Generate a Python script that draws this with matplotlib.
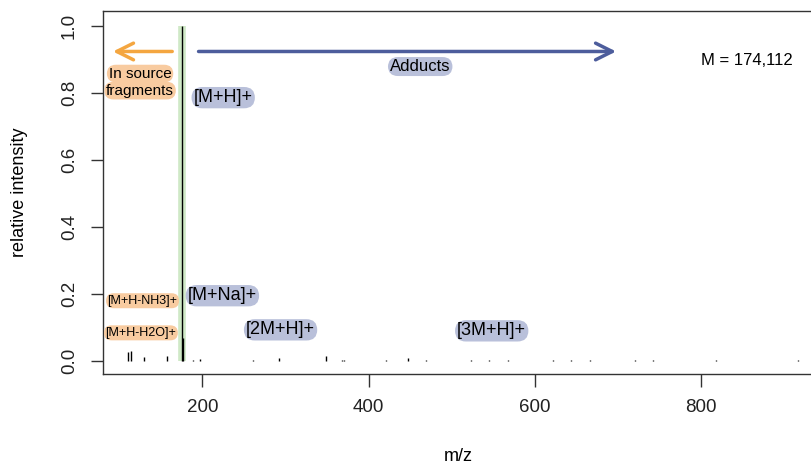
import matplotlib.pyplot as plt
import numpy as np

plt.rcParams['font.family'] = ['Liberation Sans', 'DejaVu Sans']

# spectrum sticks (m/z, relative intensity)
mz = [110.9, 113.5, 130.1, 157.1, 175.12, 176.12, 189.2, 197.1, 261.4, 292.7,
      349.2, 367.9, 370.7, 420.6, 447.7, 468.8, 523.3, 545.3, 567.8, 621.8,
      643.7, 665.7, 719.9, 742.0, 818.1, 915.9]
inten = [0.027, 0.029, 0.012, 0.016, 1.0, 0.07, 0.004, 0.005, 0.004, 0.008,
         0.014, 0.003, 0.003, 0.004, 0.01, 0.004, 0.004, 0.004, 0.004, 0.004,
         0.004, 0.004, 0.004, 0.004, 0.004, 0.004]

mass_label = 'M = 174,112'
base_mz = 175.12

# labels: text, x, y, fontsize
frag_labels = [('In source', 125, 0.859, 11), ('fragments', 125, 0.808, 11),
               ('[M+H-NH3]+', 128, 0.180, 9), ('[M+H-H2O]+', 126, 0.084, 9)]
adduct_labels = [('[M+H]+', 225, 0.787, 13), ('Adducts', 462, 0.880, 12),
                 ('[M+Na]+', 224, 0.195, 13), ('[2M+H]+', 294, 0.093, 13),
                 ('[3M+H]+', 548, 0.090, 13)]

orange_fill = '#f8cba0'
blue_fill = '#b9c0da'

fig = plt.figure(figsize=(8.11, 4.70), dpi=100)
ax = fig.add_axes([103/811, 96/470, 1.003 - 103/811, (374-11)/470])

ax.vlines(base_mz, 0, 1.0, color='#cfe9c6', lw=5.5, zorder=1)
ax.vlines(mz, 0, inten, color='black', lw=1.0, zorder=2)

ax.set_xlim(80.4, 935)
ax.set_ylim(-0.039, 1.046)
ax.set_xticks([200, 400, 600, 800])
ax.set_yticks([0.0, 0.2, 0.4, 0.6, 0.8, 1.0])
ax.set_yticklabels(['0.0', '0.2', '0.4', '0.6', '0.8', '1.0'], rotation=90, va='center')
ax.tick_params(length=9, width=1, labelsize=13.5, pad=9, colors='#333333', labelcolor='#222222')
for s in ax.spines.values():
    s.set_color('#333333')
    s.set_linewidth(1)

ax.set_xlabel('m/z', fontsize=13, labelpad=23)
ax.set_ylabel('relative intensity', fontsize=13, labelpad=24)

# arrows
ax.annotate('', xy=(89, 0.925), xytext=(167, 0.925),
            arrowprops=dict(arrowstyle='->', color='#f4a640', lw=2.5, mutation_scale=30))
ax.annotate('', xy=(701, 0.925), xytext=(192, 0.925),
            arrowprops=dict(arrowstyle='->', color='#4d5d9c', lw=2.5, mutation_scale=30))

for txt, x, y, fs in frag_labels:
    ax.text(x, y, txt, ha='center', va='center', fontsize=fs, zorder=3,
            bbox=dict(boxstyle='round,pad=0.12,rounding_size=0.6', fc=orange_fill, ec='none'))
for txt, x, y, fs in adduct_labels:
    ax.text(x, y, txt, ha='center', va='center', fontsize=fs, zorder=3,
            bbox=dict(boxstyle='round,pad=0.12,rounding_size=0.6', fc=blue_fill, ec='none'))

ax.text(855, 0.898, mass_label, ha='center', va='center', fontsize=12)

fig.savefig('out.png', dpi=100)
